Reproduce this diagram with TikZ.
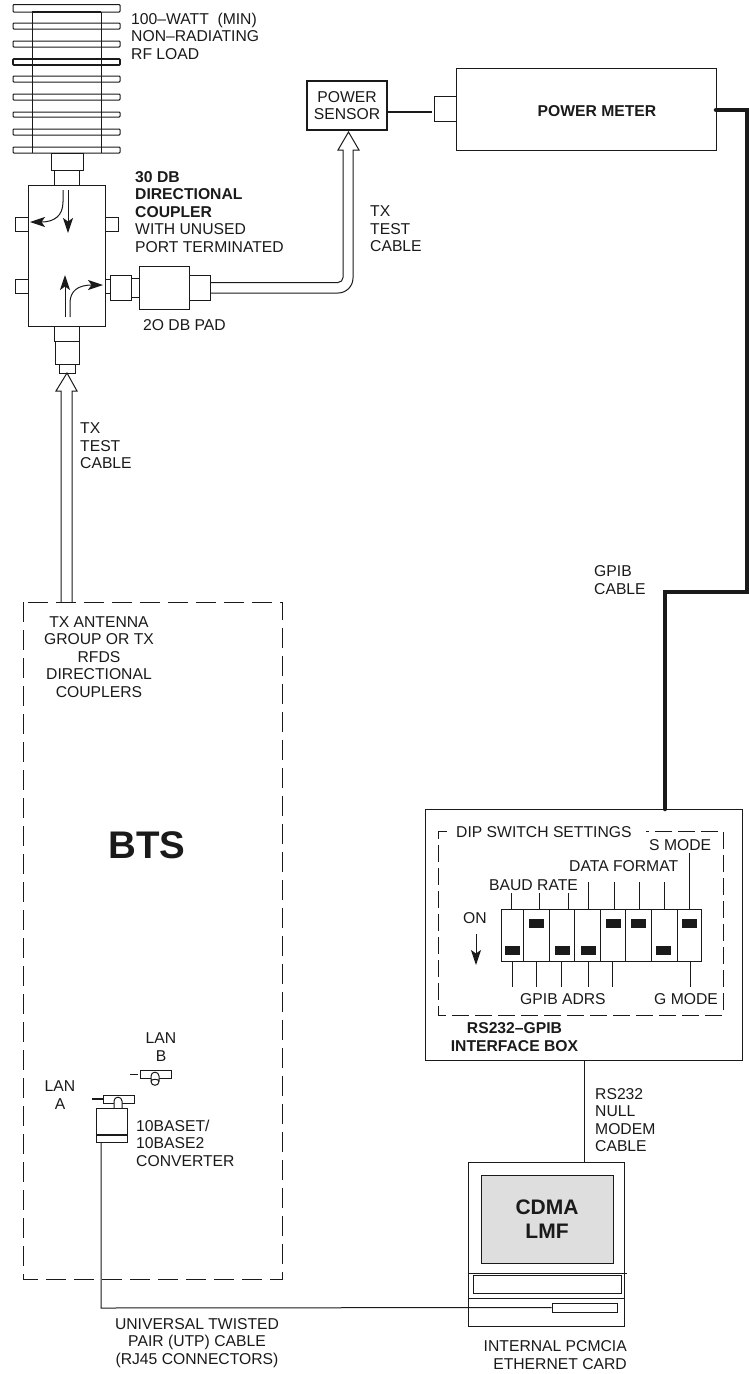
\documentclass[tikz,border=0pt]{standalone}
\usepackage{fontspec}
\setmainfont{Liberation Sans}
\usetikzlibrary{arrows.meta}
\definecolor{ink}{HTML}{1A1A1A}
\tikzset{
  line/.style={draw=ink,line width=1pt},
  fin/.style={line,rounded corners=0.8pt},
  lbl/.style={inner sep=0pt,anchor=west,font=\fontsize{15.7}{17.5}\selectfont,text=ink,align=left},
  lblc/.style={lbl,anchor=center,align=center},
  lblb/.style={lbl,font=\fontsize{15.7}{17.5}\selectfont\bfseries},
  dashbox/.style={line,dash pattern=on 20pt off 8pt},
  dashin/.style={line,dash pattern=on 17pt off 6pt},
  tip/.style={-{Stealth[length=15pt,width=10pt,inset=3.5pt]}},
}
\begin{document}
\begin{tikzpicture}[x=1pt,y=-1pt]
\useasboundingbox (0,0) rectangle (749,1374);
% RF load
\foreach \a/\b in {4.5/12,23/29,41/47,76/82,94/100,112/117,129/135,147/153}
  \draw[fin] (13,\a) rectangle (120,\b);
\draw[fin,line width=1.7pt] (13,59) rectangle (120,65);
\draw[line] (32,12) -- (32,153) (101,12) -- (101,153);
\draw[line,line width=1.7pt] (32,12) -- (101,12);
\draw[line] (51,153) rectangle (83,170);
\draw[line] (54,170) rectangle (79,185);
% coupler
\node[line,minimum width=77pt,minimum height=141pt,inner sep=0pt] (coupler) at (66.5,255.5) {};
\draw[line] (15,217) rectangle (28,231) (105,217) rectangle (118,231);
\draw[line] (15,279) rectangle (28,293) (105,279) rectangle (110,293);
\draw[line] (110,275) rectangle (131,300);
\draw[line] (131,278) rectangle (139,297);
\node[line,minimum width=50pt,minimum height=43pt,inner sep=0pt] (pad) at (164,287.5) {};
\node[line,minimum width=21pt,minimum height=25pt,inner sep=0pt] (padr) at (199.5,287.5) {};
\draw[line] (54,326) rectangle (79,341);
\draw[line] (55,341) rectangle (79,364);
\node[line,minimum width=16pt,minimum height=9pt,inner sep=0pt] (tipconn) at (67,368.5) {};
% coupler arrows
\draw[line,tip] (68,190) -- (68,233);
\draw[line,tip] (63,190) -- (63,202) .. controls (63,216) and (54,222) .. (30,222);
\draw[line,tip] (65,317) -- (65,275);
\draw[line,tip] (70,317) -- (70,303) .. controls (70,291) and (78,285) .. (103,285);
% Test cable to sensor
\coordinate (c1) at (210,282.5);
\coordinate (c2) at (210,293);
\draw[line] (c1) -- (338,282.5) arc (90:0:5) -- (343,150) -- (338,150) -- (348.5,132) -- (359,150) -- (353,150) -- (353,278) arc (0:90:15) -- (c2);
% Sensor and meter
\node[draw=ink,line width=2.4pt,minimum width=80pt,minimum height=49pt,inner sep=0pt,align=center,font=\fontsize{15.7}{16.5}\selectfont,text=ink] (sensor) at (347,105.5) {POWER\\SENSOR};
\node[line,minimum width=260pt,minimum height=82pt,inner sep=0pt] (meter) at (586,109) {};
\node[lblb,anchor=center] (metert) at (597,111) {POWER METER};
\node[line,minimum width=22pt,minimum height=25pt,inner sep=0pt] (mport) at (445,108.5) {};
\coordinate (sensend) at (432,112);
\draw[draw=ink,line width=2pt] (sensor.east |- sensend) -- (sensend);
% Interface box
\node[line,minimum width=317pt,minimum height=251pt,inner sep=0pt] (iface) at (583.5,934.5) {};
\draw[draw=ink,line width=4.5pt,line cap=round] (716,110) -- (747,110) -- (747,592) -- (665,592) -- (665,809);
\draw[dashin] (447,831) -- (438,831) -- (438,1015) -- (723,1015) -- (723,831) -- (646,831);
\node[lbl] (diptxt) at (456,832) {DIP SWITCH SETTINGS};
\node[lbl] (smode) at (649,845) {S MODE};
\node[lbl] (dfmt) at (569,866) {DATA FORMAT};
\node[lbl] (baud) at (489,885) {BAUD RATE};
\node[lblc] (ontxt) at (475,918) {ON};
\draw[line,tip] (476,934) -- (476,965);
\node[lbl] (gpibadrs) at (520,999) {GPIB ADRS};
\node[lbl] (gmode) at (654,999) {G MODE};
\node[lblb,anchor=center,align=center] (rsgpib) at (514.5,1037) {RS232–GPIB\\INTERFACE BOX};
\node[line,minimum width=200pt,minimum height=52pt,inner sep=0pt] (dip) at (601,935) {};
\foreach \x in {523,549,574,600,625,651,677} \draw[line] (\x,909) -- (\x,961);
\foreach \x in {512,562,588,663} \fill[ink] (\x-7.5,945.5) rectangle (\x+7.5,954.5);
\foreach \x in {536,613,638,689} \fill[ink] (\x-7.5,918.5) rectangle (\x+7.5,927.5);
\foreach \x in {511,539,568} \draw[line] (\x,909) -- (\x,893);
\foreach \x in {588,614,639,664} \draw[line] (\x,909) -- (\x,882);
\draw[line] (689,909) -- (689,853);
\foreach \x in {512,536,561,588,612,690} \draw[line] (\x,961) -- (\x,987);
% computer
\node[line,minimum width=156pt,minimum height=164pt,inner sep=0pt] (pc) at (546,1244) {};
\node[draw=ink,line width=1pt,fill=black!13,minimum width=132pt,minimum height=88pt,inner sep=0pt,align=center,font=\fontsize{21}{24.5}\selectfont\bfseries,text=ink] (screen) at (547,1219) {CDMA\\LMF};
\draw[line] (468,1273) -- (627,1273);
\draw[line] (473,1275) rectangle (621,1293);
\draw[line] (468,1298) -- (624,1298);
\node[line,minimum width=65pt,minimum height=9pt,inner sep=0pt] (card) at (584.5,1307.5) {};
\coordinate (rstop) at (584,1060);
\draw[line] (rstop) -- (rstop |- pc.north);
% labels
\node[lbl] (l1) at (131,36) {100–WATT\ \ (MIN)\\NON–RADIATING\\RF LOAD};
\node[lbl] (l2) at (135,212) {\bfseries 30 DB\\\bfseries DIRECTIONAL\\\bfseries COUPLER\\WITH UNUSED\\PORT TERMINATED};
\node[lbl] (l3) at (370,229) {TX\\TEST\\CABLE};
\node[lbl] (l4) at (143,325) {2O DB PAD};
\node[lbl] (l5) at (80,446) {TX\\TEST\\CABLE};
\node[lbl] (l6) at (594,580) {GPIB\\CABLE};
\node[lblc] (l7) at (99,657) {TX ANTENNA\\GROUP OR TX\\RFDS\\DIRECTIONAL\\COUPLERS};
\node[inner sep=0pt,font=\fontsize{38.5}{42}\selectfont\bfseries,text=ink] (bts) at (147,845) {BTS};
\node[lblc] (l8) at (161,1047) {LAN\\B};
\node[lblc] (l9) at (60,1095) {LAN\\A};
\node[lbl] (l10) at (136,1143) {10BASET/\\10BASE2\\CONVERTER};
\node[lbl] (l11) at (595,1120) {RS232\\NULL\\MODEM\\CABLE};
\node[lblc] (l12) at (197,1343) {UNIVERSAL TWISTED\\PAIR (UTP) CABLE\\(RJ45 CONNECTORS)};
\node[lbl,align=right,anchor=east] (l13) at (627,1355) {INTERNAL PCMCIA\\ETHERNET CARD};
% BTS box
\draw[dashbox] (23,602) rectangle (282.5,1279);
% lower test cable
\draw[line] (61,602) -- (61,391) -- (56,391) -- (67,373) -- (77,391) -- (72,391) -- (72,602);
% LAN A
\draw[line] (103,1095) rectangle (134,1103);
\draw[line,line width=1.7pt] (92,1099) -- (103,1099);
\draw[line,fill=white] (114,1108) -- (114,1101) .. controls (114,1096) and (122,1096) .. (122,1101) -- (122,1108);
\node[line,minimum width=31pt,minimum height=34pt,inner sep=0pt] (conv) at (111.5,1125) {};
\draw[line,line width=1.7pt] (96,1135) -- (127,1135);
% LAN B
\draw[line] (140,1070) rectangle (171,1078);
\draw[line] (130,1074) -- (138,1074);
\draw[line,fill=white] (151,1081.5) -- (151,1076) .. controls (151,1071) and (159,1071) .. (159,1076) -- (159,1081.5) .. controls (159,1086.5) and (151,1086.5) .. (151,1081.5) .. controls (151,1078.5) and (159,1078.5) .. (159,1081.5);
\draw[line] (conv.south -| 101,0) -- (101,1308) -- (card.west);
\end{tikzpicture}
\end{document}
